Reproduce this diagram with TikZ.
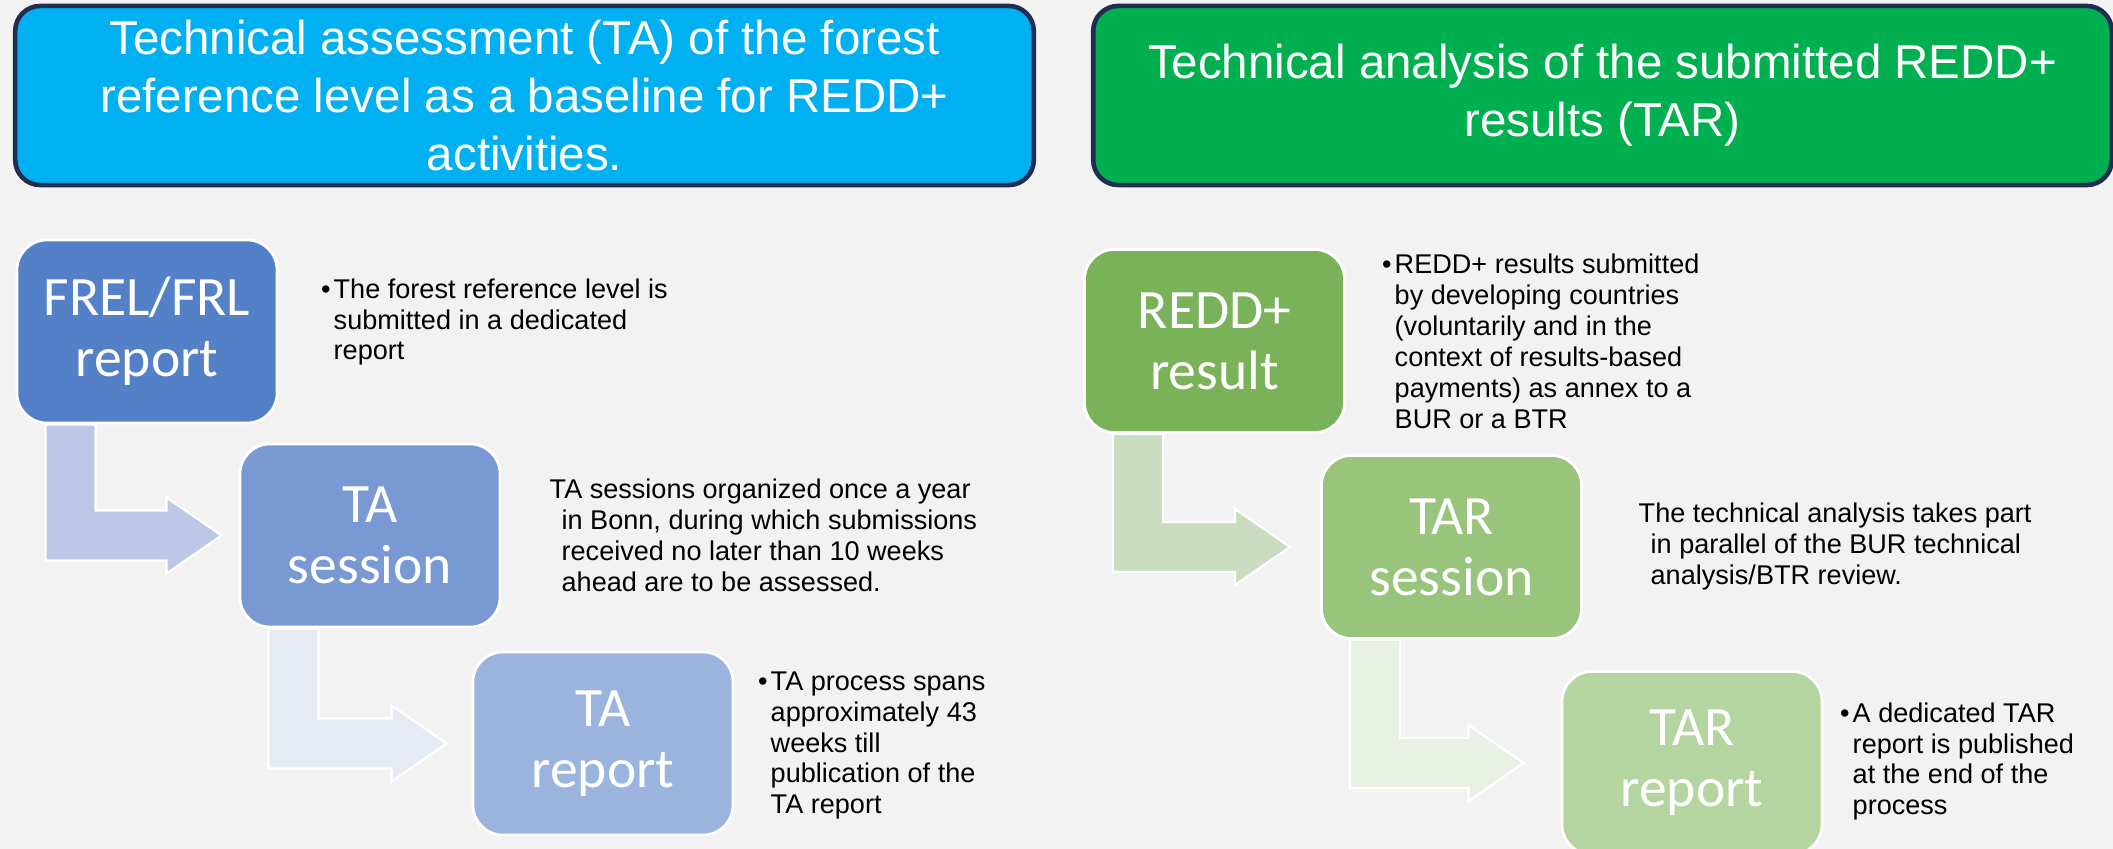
\documentclass[tikz,border=0pt]{standalone}
\usepackage{fontspec}
\setmainfont{Liberation Sans}
\newfontfamily\boxfont{Carlito}
\usetikzlibrary{calc}

\definecolor{pagegray}{RGB}{242,242,242}
\definecolor{titleblue}{HTML}{00B0F0}
\definecolor{titlegreen}{HTML}{00B050}
\definecolor{titleline}{RGB}{32,45,80}
\definecolor{blueA}{RGB}{84,128,200}
\definecolor{blueB}{RGB}{120,153,210}
\definecolor{blueC}{RGB}{155,180,222}
\definecolor{bluearrA}{RGB}{188,200,230}
\definecolor{bluearrB}{RGB}{230,234,245}
\definecolor{greenA}{RGB}{122,178,90}
\definecolor{greenB}{RGB}{152,196,124}
\definecolor{greenC}{RGB}{181,213,160}
\definecolor{greenarrA}{RGB}{203,221,192}
\definecolor{greenarrB}{RGB}{233,240,228}

\tikzset{
  titlebox/.style={fill=#1, draw=titleline, line width=1.3pt, rounded corners=0.25cm,
    minimum width=10.18cm, minimum height=1.79cm, inner sep=0pt,
    text=white, align=center, font=\fontsize{13.5}{16.5}\selectfont},
  stepbox/.style={fill=#1, draw=white, line width=0.8pt, rounded corners=0.3cm,
    minimum width=2.6cm, minimum height=1.83cm, inner sep=0pt,
    text=white, align=center, font=\boxfont\fontsize{15.8}{17.4}\selectfont},
  note/.style={anchor=west, align=left, inner sep=0pt,
    font=\fontsize{7.7}{8.8}\selectfont},
}

% bent arrow from below one box to the left side of the next (#4 = gap before the box)
\newcommand{\bentarrow}[4]{%
  \fill[#3, draw=white, line width=0.6pt]
    let \p1=($(#1.south west)+(30,0)$), \p2=($(#2.west)+(-#4,0)$) in
    (\x1,\y1) -- (\x1,{\y2-0.25cm}) -- ({\x2-0.55cm},{\y2-0.25cm})
    -- ({\x2-0.55cm},{\y2-0.38cm}) -- (\x2,\y2) -- ({\x2-0.55cm},{\y2+0.38cm})
    -- ({\x2-0.55cm},{\y2+0.25cm}) -- ({\x1+0.5cm},{\y2+0.25cm})
    -- ({\x1+0.5cm},\y1) -- cycle;
}
\newcommand{\bul}{\llap{\textbullet\hspace{0.9pt}}}

\begin{document}
\begin{tikzpicture}[x=0.01cm,y=-0.01cm]
  \clip (0,0) rectangle (2113,849);
  \fill[pagegray] (0,0) rectangle (2113,849);

  % headings
  \node[titlebox=titleblue] (tahead) at (524.5,95.5)
    {Technical assessment (TA) of the forest\\reference level as a baseline for REDD+\\activities.};
  \node[titlebox=titlegreen] (tarhead) at (1602.5,95.5)
    {Technical analysis of the submitted REDD+\\results (TAR)};

  % left process
  \node[stepbox=blueA] (frel) at (147,331.5) {FREL/FRL\\report};
  \node[stepbox=blueB] (tasess) at (370,535.5) {TA\\session};
  \node[stepbox=blueC] (tarep) at (603,743.5) {TA\\report};
  \bentarrow{frel}{tasess}{bluearrA}{17}
  \bentarrow{tasess}{tarep}{bluearrB}{25}

  \node[note] (frelnote) at (333,322)
    {\bul The forest reference level is\\submitted in a dedicated\\report};
  \node[note] (tasessnote) at (549,535)
    {TA sessions organized once a year\\\hspace*{3.4pt}in Bonn, during which submissions\\\hspace*{3.4pt}received no later than 10 weeks\\\hspace*{3.4pt}ahead are to be assessed.};
  \node[note] (tarepnote) at (770,745.5)
    {\bul TA process spans\\approximately 43\\weeks till\\publication of the\\TA report};

  % right process
  \node[stepbox=greenA] (redd) at (1214.5,341) {REDD+\\result};
  \node[stepbox=greenB] (tarsess) at (1451.5,547) {TAR\\session};
  \node[stepbox=greenC] (tarrep) at (1692,763) {TAR\\report};
  \bentarrow{redd}{tarsess}{greenarrA}{30}
  \bentarrow{tarsess}{tarrep}{greenarrB}{37}

  \node[note] (reddnote) at (1394,341.5)
    {\bul REDD+ results submitted\\by developing countries\\(voluntarily and in the\\context of results-based\\payments) as annex to a\\BUR or a BTR};
  \node[note] (tarsessnote) at (1638,546.5)
    {The technical analysis takes part\\\hspace*{3.4pt}in parallel of the BUR technical\\\hspace*{3.4pt}analysis/BTR review.};
  \node[note] (tarrepnote) at (1852,761.5)
    {\bul A dedicated TAR\\report is published\\at the end of the\\process};
\end{tikzpicture}
\end{document}
